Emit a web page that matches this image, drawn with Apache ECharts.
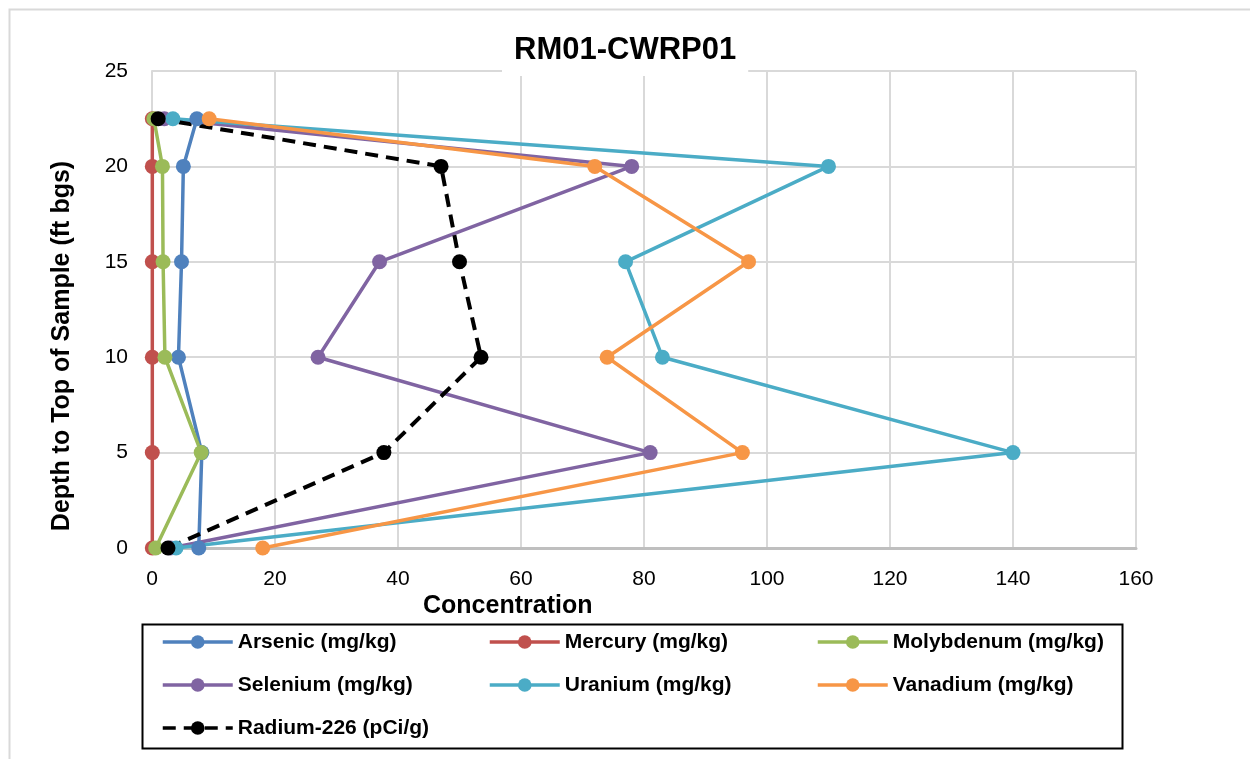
<!DOCTYPE html>
<html>
<head>
<meta charset="utf-8">
<script src="https://cdn.jsdelivr.net/npm/echarts@6/dist/echarts.min.js"></script>
<style>
  html, body { margin: 0; padding: 0; background: #fff; }
  #chart { width: 1250px; height: 759px; }
</style>
</head>
<body>
<div id="chart"></div>
<script>
// Sample depths (ft bgs), top of sample
const depths = [22.5, 20, 15, 10, 5, 0];

// Concentrations at each depth
const arsenic    = [7.3, 5.1, 4.8, 4.3, 8.1, 7.6];
const mercury    = [0.05, 0.05, 0.05, 0.05, 0.05, 0.05];
const molybdenum = [0.3, 1.7, 1.8, 2.1, 8.0, 0.6];
const selenium   = [2.0, 78, 37, 27, 81, 3.0];
const uranium    = [3.4, 110, 77, 83, 140, 3.9];
const vanadium   = [9.3, 72, 97, 74, 96, 18];
const radium226  = [1.0, 47, 50, 53.5, 37.7, 2.6];

const xTicks = [0, 20, 40, 60, 80, 100, 120, 140, 160];
const yTicks = [0, 5, 10, 15, 20, 25];

const seriesDefs = [
  { name: 'Arsenic (mg/kg)',    values: arsenic,    color: '#4F81BD' },
  { name: 'Mercury (mg/kg)',    values: mercury,    color: '#C0504D' },
  { name: 'Molybdenum (mg/kg)', values: molybdenum, color: '#9BBB59' },
  { name: 'Selenium (mg/kg)',   values: selenium,   color: '#8064A2' },
  { name: 'Uranium (mg/kg)',    values: uranium,    color: '#4BACC6' },
  { name: 'Vanadium (mg/kg)',   values: vanadium,   color: '#F79646' },
  { name: 'Radium-226 (pCi/g)', values: radium226,  color: '#000000', dashed: true }
];

const FONT = '"Liberation Sans", Arial, sans-serif';

const series = seriesDefs.map(s => ({
  name: s.name,
  type: 'line',
  data: s.values.map((v, i) => [v, depths[i]]),
  symbol: 'circle',
  symbolSize: 15,
  color: s.color,
  lineStyle: { width: s.dashed ? 4 : 3.5, color: s.color, type: s.dashed ? [13, 8] : 'solid' },
  itemStyle: { color: s.color },
  emphasis: { disabled: true },
  animation: false
}));

const legendText = { fontFamily: FONT, fontWeight: 'bold', fontSize: 21, color: '#000', lineHeight: 22 };
function legendCol(left, names) {
  return {
    orient: 'vertical', left: left, top: 631, padding: 0,
    itemWidth: 70, itemHeight: 17, itemGap: 21,
    lineStyle: { width: 3.5 },
    data: names, textStyle: legendText, selectedMode: false
  };
}

const chart = echarts.init(document.getElementById('chart'), null, { renderer: 'canvas' });
chart.setOption({
  backgroundColor: '#fff',
  animation: false,
  title: {
    text: 'RM01-CWRP01',
    left: 502, top: 24,
    padding: [8, 12],
    backgroundColor: '#fff',
    textStyle: { fontFamily: FONT, fontWeight: 'bold', fontSize: 31, lineHeight: 36, color: '#000' },
    z: 10
  },
  grid: { left: 152, right: 114, top: 71, bottom: 211, containLabel: false },
  xAxis: {
    type: 'value', min: xTicks[0], max: xTicks[xTicks.length - 1], interval: 20,
    axisLine: { show: true, lineStyle: { color: '#bfbfbf', width: 3 } },
    axisTick: { show: false },
    axisLabel: { fontFamily: FONT, fontSize: 21, color: '#000', margin: 21 },
    splitLine: { show: true, lineStyle: { color: '#d9d9d9', width: 2 } }
  },
  yAxis: {
    type: 'value', min: yTicks[0], max: yTicks[yTicks.length - 1], interval: 5,
    axisLine: { show: true, lineStyle: { color: '#d9d9d9', width: 2 } },
    axisTick: { show: false },
    axisLabel: { fontFamily: FONT, fontSize: 21, color: '#000', margin: 24 },
    splitLine: { show: true, lineStyle: { color: '#d9d9d9', width: 2 } }
  },
  legend: [
    legendCol(161, ['Arsenic (mg/kg)', 'Selenium (mg/kg)', 'Radium-226 (pCi/g)']),
    legendCol(488, ['Mercury (mg/kg)', 'Uranium (mg/kg)']),
    legendCol(816, ['Molybdenum (mg/kg)', 'Vanadium (mg/kg)'])
  ],
  graphic: [
    // outer chart frame
    { type: 'rect', left: 7, top: 7, shape: { width: 1270, height: 800 },
      style: { fill: 'none', stroke: '#d9d9d9', lineWidth: 2 }, silent: true, z: -1 },
    // legend frame
    { type: 'rect', left: 140, top: 622, shape: { width: 980, height: 124 },
      style: { fill: 'none', stroke: '#000', lineWidth: 2 }, silent: true },
    // axis titles
    { type: 'text', left: 423, top: 594,
      style: { text: 'Concentration', font: 'bold 25px ' + FONT, fill: '#000' }, silent: true },
    { type: 'text', x: 62, y: 346, rotation: Math.PI / 2,
      style: { text: 'Depth to Top of Sample (ft bgs)', font: 'bold 25px ' + FONT, fill: '#000',
               textAlign: 'center', textVerticalAlign: 'middle' }, silent: true }
  ],
  series: series
});
</script>
</body>
</html>
